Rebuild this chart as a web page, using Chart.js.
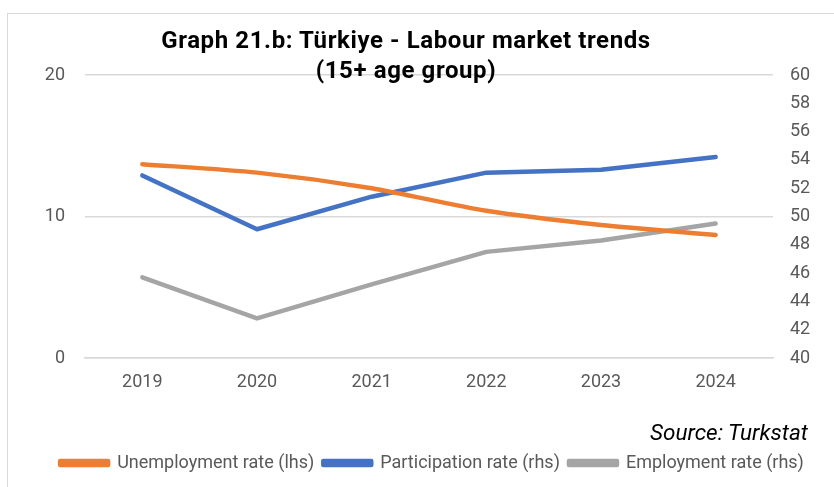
<!DOCTYPE html>
<html>
<head>
<meta charset="utf-8">
<script src="https://cdn.jsdelivr.net/npm/chart.js@4"></script>
<style>
  html, body { margin: 0; padding: 0; background: #fff; overflow: hidden; }
  #wrap { position: relative; width: 834px; height: 487px; }
  #frame { position: absolute; left: 7px; top: 13px; width: 900px; height: 600px; border: 1.5px solid #d9d9d9; box-sizing: border-box; }
  #title { position: absolute; left: 0; width: 812px; top: 25px; text-align: center; font-family: Roboto, "Liberation Sans", sans-serif; font-weight: bold; font-size: 24px; letter-spacing: 0.6px; line-height: 30px; color: #000; }
  #source { position: absolute; right: 26px; top: 419px; font-family: Roboto, "Liberation Sans", sans-serif; font-style: italic; font-size: 22.5px; color: #000; }
  canvas { position: absolute; left: 0; top: 0; }
</style>
</head>
<body>
<div id="wrap">
  <div id="frame"></div>
  <canvas id="c" width="834" height="487"></canvas>
  <div id="title">Graph 21.b: Türkiye - Labour market trends<br>(15+ age group)</div>
  <div id="source">Source: Turkstat</div>
</div>
<script>
const years = ["2019", "2020", "2021", "2022", "2023", "2024"];
const unemployment = [13.7, 13.1, 12.0, 10.4, 9.4, 8.7];
const participation = [52.9, 49.1, 51.4, 53.1, 53.3, 54.2];
const employment = [45.7, 42.8, 45.2, 47.5, 48.3, 49.5];

const tickColor = "#595959";
const fontFam = "Roboto, 'Liberation Sans', sans-serif";

new Chart(document.getElementById("c"), {
  type: "line",
  data: {
    labels: years,
    datasets: [
      { label: "Unemployment rate (lhs)", data: unemployment, yAxisID: "y", borderColor: "#ED7D31", backgroundColor: "#ED7D31", borderWidth: 4.5, pointRadius: 0, tension: 0.25, borderCapStyle: "round", borderJoinStyle: "round" },
      { label: "Participation rate (rhs)", data: participation, yAxisID: "y1", borderColor: "#4472C4", backgroundColor: "#4472C4", borderWidth: 4.5, pointRadius: 0, tension: 0, borderCapStyle: "round", borderJoinStyle: "round" },
      { label: "Employment rate (rhs)", data: employment, yAxisID: "y1", borderColor: "#A5A5A5", backgroundColor: "#A5A5A5", borderWidth: 4.5, pointRadius: 0, tension: 0, borderCapStyle: "round", borderJoinStyle: "round" }
    ]
  },
  options: {
    responsive: false,
    animation: false,
    layout: { padding: { top: 75, bottom: 5, left: 30, right: 0 } },
    plugins: {
      title: { display: false },
      tooltip: { enabled: false },
      legend: {
        position: "bottom",
        align: "center",
        labels: {
          color: tickColor,
          font: { family: fontFam, size: 18 },
          boxWidth: 48,
          boxHeight: 4,
          padding: 9
        }
      }
    },
    scales: {
      x: {
        offset: true,
        grid: { display: false, drawTicks: false },
        border: { display: true, color: "#d9d9d9", width: 1.5 },
        ticks: { color: tickColor, font: { family: fontFam, size: 18 }, padding: 14, maxRotation: 0 },
        afterFit: (s) => { s.height = 87; }
      },
      y: {
        position: "left",
        min: 0, max: 20,
        ticks: { stepSize: 10, color: tickColor, font: { family: fontFam, size: 18 }, padding: 20 },
        grid: { color: "#d9d9d9", lineWidth: 1.5, drawTicks: false },
        border: { display: false },
        afterFit: (s) => { s.width = 55; }
      },
      y1: {
        position: "right",
        min: 40, max: 60,
        ticks: { stepSize: 2, color: tickColor, font: { family: fontFam, size: 18 }, padding: 17 },
        grid: { display: false, drawTicks: false },
        border: { display: false },
        afterFit: (s) => { s.width = 61; }
      }
    }
  }
});
</script>
</body>
</html>
